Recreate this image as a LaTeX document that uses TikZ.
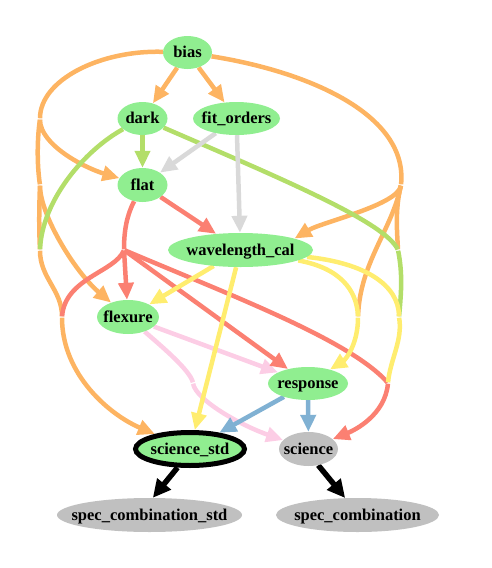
\documentclass[tikz,border=0pt]{standalone}
\usepackage{fontspec}
\setmainfont{Liberation Serif}
\usetikzlibrary{shapes.geometric,arrows.meta}
\pgfdeclarelayer{edges}
\pgfsetlayers{edges,main}
\definecolor{cO}{HTML}{FDB462}
\definecolor{cG}{HTML}{B3DE69}
\definecolor{cR}{HTML}{FB8072}
\definecolor{cY}{HTML}{FFED6F}
\definecolor{cP}{HTML}{FCCDE5}
\definecolor{cB}{HTML}{80B1D3}
\definecolor{cGr}{HTML}{D9D9D9}
\definecolor{nG}{HTML}{90EE90}
\definecolor{nGr}{HTML}{C0C0C0}
\newcommand\nlab[1]{\makebox[0pt]{\raisebox{-0.33em}[0pt][0pt]{#1}}}
\tikzset{
  nd/.style={ellipse, inner sep=0pt, font=\fontsize{16.5}{18}\selectfont\bfseries},
  gn/.style={nd, fill=nG},
  gy/.style={nd, fill=nGr},
  edg/.style={line width=4.5pt, line cap=butt},
  arr/.style={-{Triangle[length=17pt,width=15pt]}},
  karr/.style={line width=5.5pt, -{Triangle[length=18pt,width=17pt]}},
  eo/.style={edg, draw=cO},
  eg/.style={edg, draw=cG},
  er/.style={edg, draw=cR},
  ey/.style={edg, draw=cY},
  ep/.style={edg, draw=cP},
  eb/.style={edg, draw=cB},
  egr/.style={edg, draw=cGr},
  sv/.style={shorten <=0.7pt},
  ev/.style={shorten >=0.7pt},
}
\begin{document}
\begin{tikzpicture}[x=1pt,y=-1pt]
\useasboundingbox (0,0) rectangle (491,568);
% nodes
\node[gn, minimum width=49pt, minimum height=33pt] (bias) at (187.5,52.5) {\nlab{bias}};
\node[gn, minimum width=50pt, minimum height=33pt] (dark) at (142.5,118.5) {\nlab{dark}};
\node[gn, minimum width=87pt, minimum height=33pt] (fit_orders) at (236.5,118.5) {\nlab{fit\_orders}};
\node[gn, minimum width=50pt, minimum height=34pt] (flat) at (142.5,185) {\nlab{flat}};
\node[gn, minimum width=145pt, minimum height=34pt] (wavelength_cal) at (240.5,250) {\nlab{wavelength\_cal}};
\node[gn, minimum width=62pt, minimum height=34pt] (flexure) at (128,317) {\nlab{flexure}};
\node[gn, minimum width=80pt, minimum height=33pt] (response) at (308,383.5) {\nlab{response}};
\node[gn, draw=black, line width=5pt, minimum width=109pt, minimum height=33pt] (science_std) at (190,449) {\nlab{science\_std}};
\node[gy, minimum width=59pt, minimum height=34pt] (science) at (308.5,449) {\nlab{science}};
\node[gy, minimum width=185pt, minimum height=34pt] (spec_combination_std) at (149.5,515) {\nlab{spec\_combination\_std}};
\node[gy, minimum width=163pt, minimum height=34pt] (spec_combination) at (357.5,515) {\nlab{spec\_combination}};
% virtual points
\coordinate (vL1) at (40,119);
\coordinate (vL2) at (40,185);
\coordinate (vL3) at (40,250);
\coordinate (vL4) at (62,317);
\coordinate (vR1) at (401,185);
\coordinate (vR2) at (398,250);
\coordinate (vR3) at (399,317);
\coordinate (vR4) at (388,383);
\coordinate (vF) at (124,250);
\coordinate (vY) at (358,317);
\coordinate (vP) at (193,383);
\begin{pgfonlayer}{edges}
% orange
\draw[eo,arr] (bias) -- (dark);
\draw[eo,arr] (bias) -- (fit_orders);
\draw[eo,ev] (bias) .. controls (100,50) and (40,80) .. (vL1);
\draw[eo,arr,sv] (vL1) .. controls (40,145) and (85,168) .. (flat);
\draw[eo,sv,ev] (vL1) .. controls (37,140) and (37,165) .. (vL2);
\draw[eo,arr,sv] (vL2) .. controls (40,215) and (75,272) .. (flexure);
\draw[eo,sv,ev] (vL2) .. controls (39,210) and (39,230) .. (vL3);
\draw[eo,sv,ev] (vL3) .. controls (40,278) and (62,290) .. (vL4);
\draw[eo,arr,sv] (vL4) .. controls (62,375) and (110,415) .. (science_std);
\draw[eo,ev] (bias) .. controls (310,72) and (408,115) .. (vR1);
\draw[eo,arr,sv] (vR1) .. controls (398,205) and (322,222) .. (wavelength_cal.12);
\draw[eo,sv,ev] (vR1) .. controls (395,210) and (397,230) .. (vR2);
\draw[eo,sv,ev] (vR1) .. controls (392,230) and (360,262) .. (vY);
% green
\draw[eg,arr] (dark) -- (flat);
\draw[eg,ev] (dark) .. controls (85,150) and (42,200) .. (vL3);
\draw[eg,ev] (dark) .. controls (280,178) and (385,222) .. (vR2);
\draw[eg,sv,ev] (vR2) .. controls (403,275) and (401,295) .. (vR3);
% gray
\draw[egr,arr] (fit_orders) -- (flat);
\draw[egr,arr] (fit_orders) -- (wavelength_cal);
% pink
\draw[ep,arr] (flexure) -- (response);
\draw[ep,ev] (flexure) .. controls (160,345) and (190,370) .. (vP);
\draw[ep,arr,sv] (vP) .. controls (196,400) and (240,425) .. (science);
% red
\draw[er,arr] (flat) -- (wavelength_cal);
\draw[er,ev] (flat) .. controls (127,215) and (124,230) .. (vF);
\draw[er,arr,sv] (vF) -- (flexure);
\draw[er,sv,ev] (vF) .. controls (115,272) and (65,278) .. (vL4);
\draw[er,arr,sv] (vF) -- (response);
\draw[er,sv,ev] (vF) .. controls (230,295) and (350,340) .. (vR4);
\draw[er,arr,sv] (vR4) .. controls (385,415) and (355,430) .. (science);
% yellow
\draw[ey,arr] (wavelength_cal) -- (flexure);
\draw[ey,arr] (wavelength_cal) -- (science_std);
\draw[ey,ev] (wavelength_cal) .. controls (340,268) and (357,290) .. (vY);
\draw[ey,arr,sv] (vY) .. controls (358,345) and (345,360) .. (response);
\draw[ey,ev] (wavelength_cal) .. controls (365,263) and (399,285) .. (vR3);
\draw[ey,sv,ev] (vR3) .. controls (403,340) and (390,360) .. (vR4);
% blue
\draw[eb,arr] (response) -- (science_std);
\draw[eb,arr] (response) -- (science);
% black
\draw[karr] (science_std.236) -- (spec_combination_std.79);
\draw[karr] (science.301) -- (spec_combination.126);
\end{pgfonlayer}
\end{tikzpicture}
\end{document}
